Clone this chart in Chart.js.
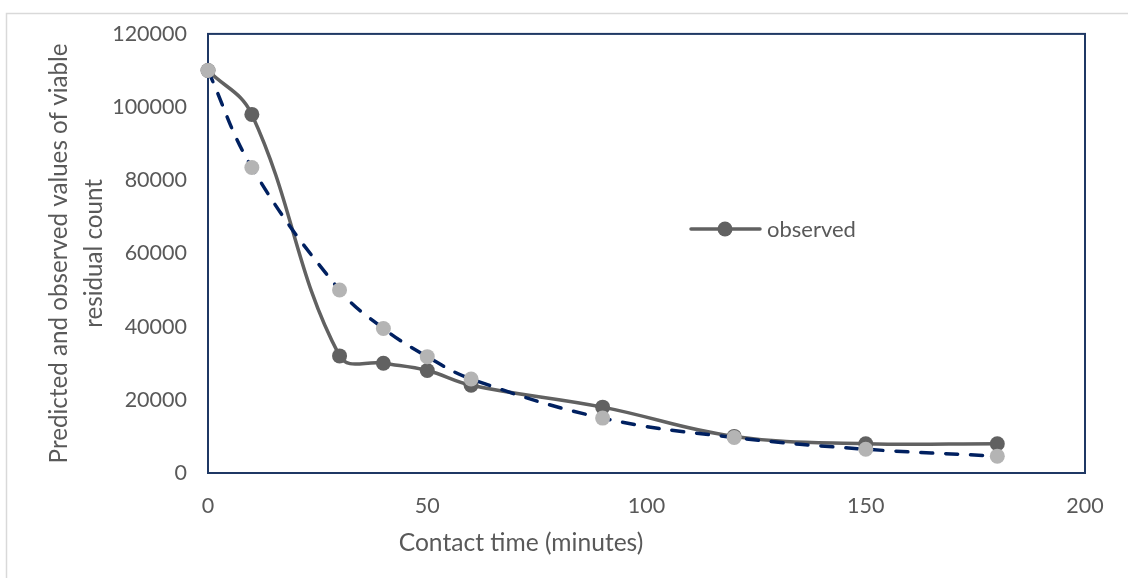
<!DOCTYPE html>
<html>
<head>
<meta charset="utf-8">
<script src="https://cdn.jsdelivr.net/npm/chart.js@4.4.1/dist/chart.umd.min.js"></script>
<style>
  html, body { margin: 0; padding: 0; background: #ffffff; }
  #wrap { width: 1128px; height: 578px; position: relative; }
</style>
</head>
<body>
<div id="wrap"><canvas id="chart" width="1128" height="578"></canvas></div>
<script>
// Contact time (minutes)
const timeMinutes = [0, 10, 30, 40, 50, 60, 90, 120, 150, 180];
// Observed viable residual count
const observedCount = [110000, 98000, 32000, 30000, 28000, 24000, 18000, 10000, 8000, 8000];
// Predicted viable residual count
const predictedCount = [110000, 83500, 50000, 39500, 31800, 25700, 15000, 9700, 6500, 4600];

// Axis ticks
const xTicks = [0, 50, 100, 150, 200];
const yTicks = [0, 20000, 40000, 60000, 80000, 100000, 120000];

const xTitle = 'Contact time (minutes)';
const yTitleLines = ['Predicted and observed values of viable', 'residual count'];
const legendLabel = 'observed';

const TEXT = '#595959';
const OBS = '#616161';
const PRED_PT = '#b4b4b4';
const PRED_LINE = '#002060';
const FRAME = '#1f3864';
const FONT = 'Lato, "Open Sans", sans-serif';

const toPoints = (xs, ys) => xs.map((x, i) => ({ x: x, y: ys[i] }));

const decorations = {
  id: 'decorations',
  beforeDraw(chart) {
    const ctx = chart.ctx;
    ctx.save();
    // outer chart frame
    ctx.strokeStyle = '#d9d9d9';
    ctx.lineWidth = 1.5;
    ctx.beginPath();
    ctx.moveTo(6.5, 578);
    ctx.lineTo(6.5, 13.5);
    ctx.lineTo(1128, 13.5);
    ctx.stroke();
    ctx.restore();
  },
  beforeDatasetsDraw(chart) {
    const { ctx, chartArea: a } = chart;
    ctx.save();
    ctx.strokeStyle = FRAME;
    ctx.lineWidth = 2;
    ctx.strokeRect(a.left, a.top, a.right - a.left, a.bottom - a.top);
    ctx.restore();
  },
  afterDraw(chart) {
    const { ctx, chartArea: a } = chart;
    ctx.save();
    ctx.fillStyle = TEXT;
    ctx.textBaseline = 'middle';
    ctx.textAlign = 'center';
    // x axis title
    ctx.font = '24.6px ' + FONT;
    ctx.fillText(xTitle, 521, 543);
    // y axis title (two lines, rotated)
    ctx.font = '24.2px ' + FONT;
    const cy = (a.top + a.bottom) / 2;
    const lineX = [59, 94];
    yTitleLines.forEach((t, i) => {
      ctx.save();
      ctx.translate(lineX[i], cy);
      ctx.rotate(-Math.PI / 2);
      ctx.fillText(t, 0, 0);
      ctx.restore();
    });
    // legend entry
    const ly = 229;
    ctx.strokeStyle = OBS;
    ctx.lineWidth = 3.5;
    ctx.lineCap = 'round';
    ctx.beginPath();
    ctx.moveTo(691, ly);
    ctx.lineTo(760, ly);
    ctx.stroke();
    ctx.fillStyle = OBS;
    ctx.beginPath();
    ctx.arc(725, ly, 7.5, 0, Math.PI * 2);
    ctx.fill();
    ctx.fillStyle = TEXT;
    ctx.textAlign = 'left';
    ctx.font = '22px ' + FONT;
    ctx.fillText(legendLabel, 767, ly + 1);
    ctx.restore();
  }
};

new Chart(document.getElementById('chart'), {
  type: 'line',
  data: {
    datasets: [
      {
        label: 'predicted',
        data: toPoints(timeMinutes, predictedCount),
        borderColor: PRED_LINE,
        borderWidth: 3.5,
        borderDash: [12, 13],
        borderCapStyle: 'round',
        tension: 0.4,
        pointRadius: 7.5,
        pointBorderWidth: 0,
        pointBackgroundColor: PRED_PT,
        pointBorderColor: PRED_PT,
        clip: false
      },
      {
        label: legendLabel,
        data: toPoints(timeMinutes, observedCount),
        borderColor: OBS,
        borderWidth: 3.5,
        tension: 0.4,
        pointRadius: 7.5,
        pointBorderWidth: 0,
        pointBackgroundColor: OBS,
        pointBorderColor: OBS,
        clip: false
      }
    ]
  },
  options: {
    responsive: false,
    animation: false,
    devicePixelRatio: 1,
    layout: { padding: { top: 31, right: 43, left: 0, bottom: 0 } },
    plugins: {
      legend: { display: false },
      tooltip: { enabled: false }
    },
    scales: {
      x: {
        type: 'linear',
        min: 0,
        max: 200,
        afterFit(scale) { scale.height = 105; },
        afterBuildTicks(scale) { scale.ticks = xTicks.map(v => ({ value: v })); },
        grid: { display: false, drawTicks: false },
        border: { display: false },
        ticks: {
          color: TEXT,
          font: { family: FONT, size: 21.5 },
          padding: 20,
          maxRotation: 0,
          callback: v => String(v)
        }
      },
      y: {
        type: 'linear',
        min: 0,
        max: 120000,
        afterFit(scale) { scale.width = 208; },
        afterBuildTicks(scale) { scale.ticks = yTicks.map(v => ({ value: v })); },
        grid: { display: false, drawTicks: false },
        border: { display: false },
        ticks: {
          color: TEXT,
          font: { family: FONT, size: 21.5 },
          padding: 21,
          callback: v => String(v)
        }
      }
    }
  },
  plugins: [decorations]
});
</script>
</body>
</html>
